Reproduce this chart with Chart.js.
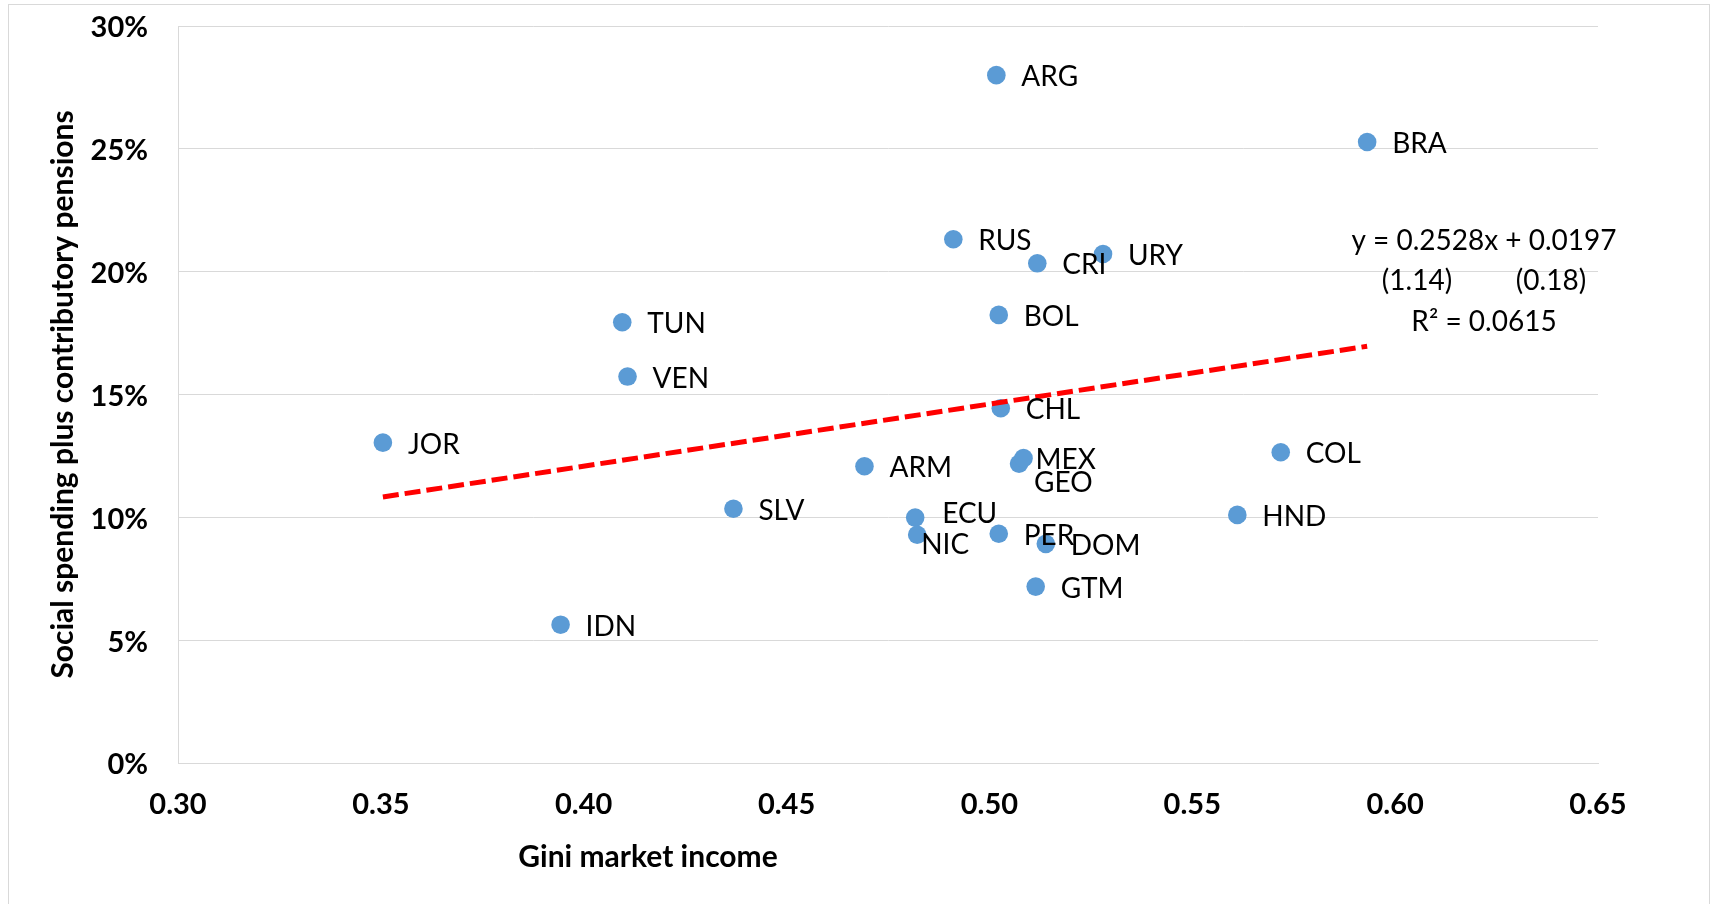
<!DOCTYPE html>
<html>
<head>
<meta charset="utf-8">
<script src="https://cdn.jsdelivr.net/npm/chart.js@4.4.1/dist/chart.umd.min.js"></script>
<style>
  html, body { margin: 0; padding: 0; background: #ffffff; }
  canvas { display: block; }
</style>
</head>
<body>
<canvas id="chart" width="1711" height="904"></canvas>
<script>
// Country codes with Gini (market income) and social spending plus contributory pensions
const countries = ['JOR', 'IDN', 'TUN', 'VEN', 'SLV', 'ARM', 'ECU', 'NIC', 'RUS', 'ARG', 'BOL',
                   'PER', 'CHL', 'GEO', 'MEX', 'GTM', 'CRI', 'DOM', 'URY', 'HND', 'COL', 'BRA'];
const giniMarket = [0.3505, 0.3943, 0.4095, 0.4108, 0.4369, 0.4692, 0.4817, 0.4822, 0.4911, 0.5017, 0.5023,
                    0.5023, 0.5028, 0.5073, 0.5084, 0.5114, 0.5118, 0.5139, 0.5280, 0.5611, 0.5718, 0.5931];
const socialSpending = [0.1304, 0.0563, 0.1794, 0.1573, 0.1035, 0.1208, 0.0999, 0.0929, 0.2132, 0.2800, 0.1824,
                        0.0933, 0.1444, 0.1218, 0.1241, 0.0718, 0.2034, 0.0892, 0.2072, 0.1010, 0.1265, 0.2528];

// Axis ticks
const xTicks = [0.30, 0.35, 0.40, 0.45, 0.50, 0.55, 0.60, 0.65];
const yTicks = [0, 0.05, 0.10, 0.15, 0.20, 0.25, 0.30];

// Linear fit: coefficients, their statistics in brackets, and R squared
const trendSlope = 0.2528;
const trendIntercept = 0.0197;
const trendStats = [1.14, 0.18];
const trendR2 = 0.0615;

// Axis titles
const xTitle = 'Gini market income';
const yTitle = 'Social spending plus contributory pensions';

// Hand-placed label nudges (pixels) where labels would collide
const labelNudge = { MEX: [-13, 0], GEO: [-10, 17], ECU: [2, -6], NIC: [-21, 8] };

const FONT = 'Lato, "Open Sans", sans-serif';

const xMin = Math.min(...giniMarket);
const xMax = Math.max(...giniMarket);
const trendPoints = [
  { x: xMin, y: trendSlope * xMin + trendIntercept },
  { x: xMax, y: trendSlope * xMax + trendIntercept }
];

const points = giniMarket.map((g, i) => ({ x: g, y: socialSpending[i] }));

// Frame around the whole chart
const framePlugin = {
  id: 'frame',
  beforeDraw(chart) {
    const ctx = chart.ctx;
    ctx.save();
    ctx.fillStyle = '#ffffff';
    ctx.fillRect(0, 0, chart.width, chart.height);
    ctx.strokeStyle = '#D9D9D9';
    ctx.lineWidth = 1;
    ctx.strokeRect(8.5, 4.5, 1701, 1000);
    ctx.restore();
  }
};

// Country labels, axis titles and the fit equation
const textPlugin = {
  id: 'texts',
  afterDraw(chart) {
    const ctx = chart.ctx;
    ctx.save();
    ctx.fillStyle = '#000000';

    // point labels
    const meta = chart.getDatasetMeta(1);
    ctx.font = '28px ' + FONT;
    ctx.textAlign = 'left';
    ctx.textBaseline = 'alphabetic';
    meta.data.forEach((el, i) => {
      const name = countries[i];
      const n = labelNudge[name] || [0, 0];
      const x = el.x + 25 + n[0];
      const y = el.y + 1 + n[1] + 10;
      ctx.fillText(name, x, y);
    });

    // fit equation
    const eqX = 1484;
    ctx.textAlign = 'center';
    ctx.fillText('y = ' + trendSlope.toFixed(4) + 'x + ' + trendIntercept.toFixed(4), eqX, 250);
    ctx.fillText('(' + trendStats[0].toFixed(2) + ')', 1417, 290);
    ctx.fillText('(' + trendStats[1].toFixed(2) + ')', 1551, 290);
    ctx.fillText('R\u00B2 = ' + trendR2.toFixed(4), eqX, 331);

    // axis titles
    ctx.font = 'bold 30px ' + FONT;
    ctx.textAlign = 'center';
    ctx.fillText(xTitle, 648, 867);
    ctx.translate(73, (chart.chartArea.top + chart.chartArea.bottom) / 2);
    ctx.rotate(-Math.PI / 2);
    ctx.fillText(yTitle, 0, 0);
    ctx.restore();
  }
};

new Chart(document.getElementById('chart'), {
  type: 'scatter',
  data: {
    datasets: [
      {
        label: 'Linear fit',
        data: trendPoints,
        showLine: true,
        borderColor: '#FF0000',
        borderWidth: 5,
        borderDash: [16, 6],
        pointRadius: 0,
        fill: false
      },
      {
        label: 'Countries',
        data: points,
        backgroundColor: '#5B9BD5',
        borderWidth: 0,
        pointRadius: 9.3,
        pointHoverRadius: 9.3
      }
    ]
  },
  options: {
    responsive: false,
    animation: false,
    events: [],
    layout: { padding: { left: 0, top: 26, right: 113, bottom: 0 } },
    plugins: {
      legend: { display: false },
      tooltip: { enabled: false }
    },
    scales: {
      x: {
        type: 'linear',
        min: xTicks[0],
        max: xTicks[xTicks.length - 1],
        afterBuildTicks(scale) { scale.ticks = xTicks.map(v => ({ value: v })); },
        afterFit(scale) { scale.height = 141; },
        grid: { display: false, drawTicks: false },
        border: { display: true, color: '#D9D9D9', width: 1 },
        ticks: {
          autoSkip: false,
          maxRotation: 0,
          padding: 24,
          color: '#000000',
          font: { family: FONT, size: 29, weight: 'bold' },
          callback: v => Number(v).toFixed(2)
        }
      },
      y: {
        type: 'linear',
        min: yTicks[0],
        max: yTicks[yTicks.length - 1],
        afterBuildTicks(scale) { scale.ticks = yTicks.map(v => ({ value: v })); },
        afterFit(scale) { scale.width = 178; scale.paddingTop = 0; scale.paddingBottom = 0; },
        grid: { color: '#D9D9D9', lineWidth: 1, drawTicks: false },
        border: { display: true, color: '#D9D9D9', width: 1 },
        ticks: {
          autoSkip: false,
          padding: 30,
          labelOffset: 2,
          color: '#000000',
          font: { family: FONT, size: 29, weight: 'bold' },
          callback: v => Math.round(Number(v) * 100) + '%'
        }
      }
    }
  },
  plugins: [framePlugin, textPlugin]
});
</script>
</body>
</html>
